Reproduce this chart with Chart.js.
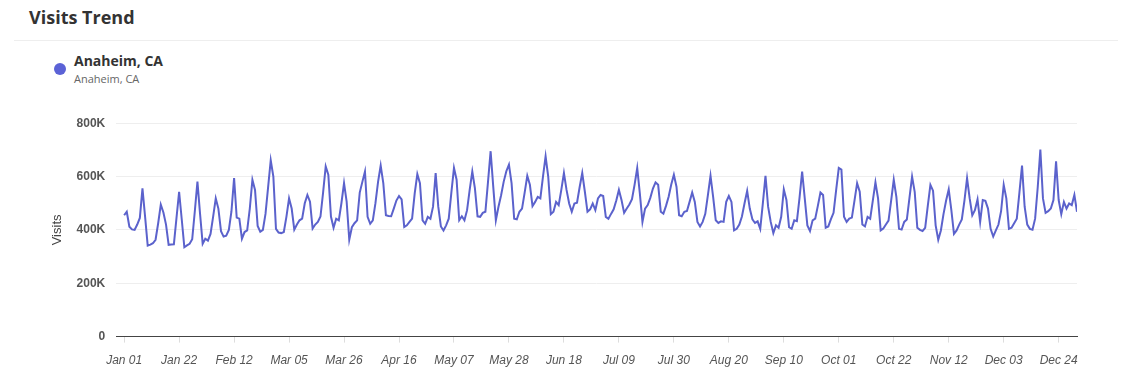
<!DOCTYPE html>
<html>
<head>
<meta charset="utf-8">
<script src="https://cdn.jsdelivr.net/npm/chart.js@4.4.0/dist/chart.umd.min.js"></script>
<style>
  html, body { margin: 0; padding: 0; background: #fff; }
  body { width: 1136px; height: 378px; position: relative; overflow: hidden; font-family: 'Open Sans', sans-serif; }
  .title { position: absolute; left: 29px; top: 5px; font-size: 18px; font-weight: 700; color: #333; }
  .sep { position: absolute; left: 14px; right: 18px; top: 40px; border-top: 1px solid #eee; }
  .legend-dot { position: absolute; left: 54px; top: 63px; width: 12px; height: 12px; border-radius: 50%; background: #5b62d6; }
  .legend-name { position: absolute; left: 74px; top: 51px; font-size: 14px; font-weight: 700; color: #333; }
  .legend-sub { position: absolute; left: 74px; top: 71px; font-size: 11px; color: #666; }
  .wrap { position: absolute; left: 50px; top: 105px; width: 1040px; height: 274px; }
</style>
</head>
<body>
<div class="title">Visits Trend</div>
<div class="sep"></div>
<div class="legend-dot"></div>
<div class="legend-name">Anaheim, CA</div>
<div class="legend-sub">Anaheim, CA</div>
<div class="wrap"><canvas id="visitsChart"></canvas></div>

<script>
// daily visits (thousands), one array per month, non-leap year
const jan = [455, 468, 412, 402, 400, 420, 445, 556, 450, 341, 345, 350, 363, 425, 495, 465, 420, 344, 345, 346, 445, 543, 440, 335, 342, 348, 365, 470, 581, 460, 348];
const feb = [367, 360, 385, 450, 518, 480, 395, 375, 378, 400, 470, 594, 446, 442, 367, 392, 398, 480, 588, 550, 415, 393, 400, 460, 560, 661, 600, 404];
const mar = [390, 388, 392, 450, 518, 480, 401, 420, 436, 442, 500, 531, 506, 405, 420, 430, 450, 540, 638, 607, 450, 408, 442, 436, 500, 575, 506, 363, 410, 425, 436];
const apr = [540, 580, 619, 449, 423, 436, 500, 580, 641, 575, 455, 452, 451, 480, 510, 527, 514, 411, 417, 430, 442, 537, 609, 575, 436, 423, 449, 442, 487, 613];
const may = [487, 413, 398, 417, 442, 540, 632, 588, 436, 451, 436, 474, 550, 619, 556, 451, 449, 464, 468, 580, 695, 562, 436, 487, 530, 581, 620, 645, 575, 442, 440];
const jun = [468, 480, 540, 603, 569, 489, 505, 524, 518, 600, 676, 600, 459, 468, 505, 493, 550, 613, 550, 499, 468, 499, 502, 560, 613, 543, 468, 477, 499, 474];
const jul = [518, 531, 527, 449, 442, 460, 477, 510, 550, 512, 464, 480, 495, 515, 570, 632, 537, 430, 480, 493, 520, 555, 578, 569, 468, 461, 490, 524, 570, 607, 562];
const aug = [455, 451, 468, 471, 505, 540, 505, 430, 413, 430, 460, 530, 603, 524, 436, 426, 432, 430, 505, 527, 505, 398, 404, 420, 450, 500, 546, 480, 440, 426, 432];
const sep = [404, 500, 603, 487, 430, 388, 417, 408, 449, 552, 512, 410, 404, 436, 433, 520, 619, 518, 417, 396, 436, 442, 490, 540, 531, 408, 413, 440, 464, 550];
const oct = [632, 626, 449, 430, 442, 446, 510, 575, 543, 420, 413, 449, 442, 510, 578, 518, 398, 405, 420, 435, 510, 588, 524, 404, 401, 430, 439, 520, 600, 543, 408];
const nov = [400, 396, 408, 490, 569, 547, 417, 363, 398, 459, 510, 552, 474, 385, 398, 420, 439, 510, 594, 518, 455, 474, 514, 430, 512, 509, 480, 404, 375, 398];
const dec = [420, 470, 569, 518, 404, 408, 425, 442, 540, 641, 487, 420, 404, 401, 442, 560, 701, 518, 464, 470, 480, 512, 657, 512, 459, 505, 480, 499, 493, 531, 468];

const tickLabels = ['Jan 01', 'Jan 22', 'Feb 12', 'Mar 05', 'Mar 26', 'Apr 16', 'May 07', 'May 28', 'Jun 18',
    'Jul 09', 'Jul 30', 'Aug 20', 'Sep 10', 'Oct 01', 'Oct 22', 'Nov 12', 'Dec 03', 'Dec 24'];
const tickEvery = 21; // days between labels
const yTicks = [0, 200000, 400000, 600000, 800000];

const visits = [].concat(jan, feb, mar, apr, may, jun, jul, aug, sep, oct, nov, dec).map(v => v * 1000);
const points = visits.map((v, i) => ({ x: i, y: v }));

const axisFont = { family: "'Liberation Sans', Arial, sans-serif", size: 12 };

const ctx = document.getElementById('visitsChart').getContext('2d');
new Chart(ctx, {
    type: 'line',
    data: {
        datasets: [{
            label: 'Anaheim, CA',
            data: points,
            borderColor: '#5b62cc',
            borderWidth: 2,
            pointRadius: 0,
            tension: 0,
            fill: false
        }]
    },
    options: {
        responsive: true,
        maintainAspectRatio: false,
        animation: false,
        layout: { padding: { right: 13, bottom: 0 } },
        plugins: { legend: { display: false }, tooltip: { enabled: false } },
        scales: {
            x: {
                type: 'linear',
                min: -3,
                max: visits.length - 1,
                afterBuildTicks: (scale) => {
                    scale.ticks = tickLabels.map((_, i) => ({ value: i * tickEvery }));
                },
                ticks: {
                    autoSkip: false,
                    maxRotation: 0,
                    color: '#555',
                    font: { ...axisFont, style: 'italic' },
                    padding: 11,
                    callback: (value) => tickLabels[Math.round(value / tickEvery)]
                },
                grid: { drawOnChartArea: false, drawTicks: true, tickLength: 6, color: '#ddd' },
                border: { display: true, color: '#444', width: 1 }
            },
            y: {
                min: 0,
                max: 800000,
                afterBuildTicks: (scale) => {
                    scale.ticks = yTicks.map(v => ({ value: v }));
                },
                ticks: {
                    color: '#555',
                    font: { ...axisFont, weight: 'bold' },
                    padding: 11,
                    callback: (v) => v === 0 ? '0' : (v / 1000) + 'K'
                },
                grid: { color: '#eee', drawTicks: false },
                border: { display: false },
                title: { display: true, text: 'Visits', color: '#444', font: { ...axisFont, size: 13 }, padding: { top: 0, bottom: 0 } }
            }
        }
    }
});
</script>
</body>
</html>
